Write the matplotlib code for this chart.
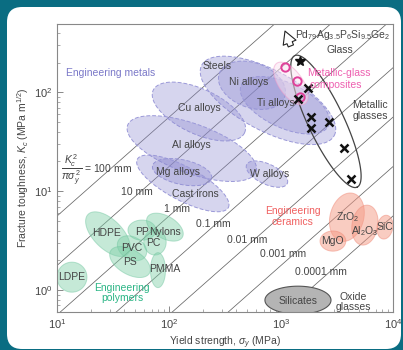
import numpy as np
import matplotlib
matplotlib.use('Agg')
import matplotlib.pyplot as plt
from matplotlib.patches import FancyBboxPatch
from matplotlib.ticker import LogLocator, NullFormatter

plt.rcParams['font.family'] = ['Liberation Sans', 'DejaVu Sans']
plt.rcParams['mathtext.fontset'] = 'custom'
plt.rcParams['mathtext.rm'] = 'Liberation Sans'
plt.rcParams['mathtext.it'] = 'Liberation Sans:italic'
plt.rcParams['mathtext.bf'] = 'Liberation Sans:bold'

# material property envelopes: centre (yield MPa, K MPa m^1/2), semi-axes (decades), angle (deg)
metal_names = ['Steels', 'Ni alloys', 'Ti alloys', 'Cu alloys', 'Al alloys', 'Mg alloys', 'Cast irons', 'W alloys']
metal_x = [766, 551, 1086, 185, 160, 131, 133, 750]
metal_y = [83, 118, 74, 64, 27, 15.6, 12, 14.9]
metal_a = [0.67, 0.31, 0.43, 0.45, 0.61, 0.27, 0.46, 0.2]
metal_b = [0.27, 0.2, 0.2, 0.2, 0.22, 0.11, 0.15, 0.09]
metal_ang = [-28, -20, -25, -25, -20, -12, -28, -25]

poly_names = ['LDPE', 'HDPE', 'PVC', 'PS', 'PP', 'Nylons', 'PC', 'PMMA']
poly_x = [13.6, 28.5, 46.8, 44.9, 57.4, 92, 75, 79.8]
poly_y = [1.35, 3.68, 2.65, 1.92, 4.04, 4.33, 3.05, 1.59]
poly_a = [0.134, 0.25, 0.14, 0.2, 0.125, 0.18, 0.115, 0.156]
poly_b = [0.134, 0.13, 0.1, 0.11, 0.09, 0.1, 0.1, 0.067]
poly_ang = [0, -45, -30, -30, 0, -30, 90, 90]

cer_names = ['ZrO$_2$', 'MgO', 'Al$_2$O$_3$', 'SiC']
cer_x = [3880, 2911, 5623, 8490]
cer_y = [5.46, 3.13, 4.54, 4.33]
cer_a = [0.22, 0.115, 0.18, 0.107]
cer_b = [0.15, 0.09, 0.115, 0.07]
cer_ang = [75, 0, 80, 80]

silicate = (1419, 0.79, 0.295, 0.125, 0)
mg_envelope = (2523, 50.9, 0.65, 0.16, -64.6)
composite_envelope = (1227, 123, 0.22, 0.107, -55)

composite_x = [1086, 1389, 1479]
composite_y = [179, 129, 89]
glass_x = [1742, 1419, 1853, 1853, 2685, 3652, 4217]
glass_y = [112, 85, 55.9, 43.3, 49.8, 27.2, 13.2]
pd_glass = (1479, 206)

# process-zone lines K^2/(pi sigma^2), mm
zone_mm = [100, 10, 1, 0.1, 0.01, 0.001, 0.0001]
zone_labels = ['10 mm', '1 mm', '0.1 mm', '0.01 mm', '0.001 mm', '0.0001 mm']
zone_label_x = [51.8, 118, 247, 497, 1042, 2276]
zone_label_y = [9.77, 6.58, 4.64, 3.2, 2.31, 1.52]

XLIM = (10, 1e4)
YLIM = (0.6, 490)

fig = plt.figure(figsize=(4.03, 3.5), dpi=100, facecolor='#0a6d82')
panel = FancyBboxPatch((0.07, 0.01), 3.94, 3.42, boxstyle='round,pad=0,rounding_size=0.15',
                       transform=fig.dpi_scale_trans, facecolor='white', edgecolor='none', zorder=-5)
fig.patches.append(panel)

ax = fig.add_axes([0.1414, 0.1086, 0.8336, 0.8224])
ax.set_xscale('log')
ax.set_yscale('log')
ax.set_xlim(*XLIM)
ax.set_ylim(*YLIM)
ax.set_facecolor('none')

# decade aspect (display length of a y decade / x decade)
bb = ax.get_position()
px_x = bb.width * 403 / np.log10(XLIM[1] / XLIM[0])
px_y = bb.height * 350 / np.log10(YLIM[1] / YLIM[0])
r = px_x / px_y


def ellipse(cx, cy, a, b, ang):
    t = np.linspace(0, 2 * np.pi, 120)
    u = a * np.cos(t)
    v = b * np.sin(t)
    th = np.radians(ang)
    dx = u * np.cos(th) - v * np.sin(th)
    dy = (u * np.sin(th) + v * np.cos(th)) * r
    return 10 ** (np.log10(cx) + dx), 10 ** (np.log10(cy) + dy)


# guide lines
xs = np.array(XLIM)
for d in zone_mm:
    ax.plot(xs, xs * np.sqrt(np.pi * d / 1000), color='#666666', lw=0.55, zorder=1)

# metals
for i in range(len(metal_names)):
    ex, ey = ellipse(metal_x[i], metal_y[i], metal_a[i], metal_b[i], metal_ang[i])
    ax.fill(ex, ey, facecolor='#8c89d0', alpha=0.35, zorder=2)
    ax.plot(ex, ey, color='#9a98d8', lw=0.7, ls=(0, (4, 2)), zorder=2)

# polymers
for i in range(len(poly_names)):
    ex, ey = ellipse(poly_x[i], poly_y[i], poly_a[i], poly_b[i], poly_ang[i])
    ax.fill(ex, ey, facecolor='#7fcfa8', alpha=0.45, edgecolor='#6cc49c', lw=0.7, zorder=2)

# ceramics
for i in range(len(cer_names)):
    ex, ey = ellipse(cer_x[i], cer_y[i], cer_a[i], cer_b[i], cer_ang[i])
    ax.fill(ex, ey, facecolor='#f59a85', alpha=0.5, edgecolor='#f08a78', lw=0.7, zorder=2)

ex, ey = ellipse(*silicate)
ax.fill(ex, ey, facecolor='#b4b4b4', edgecolor='#555555', lw=0.8, zorder=2)

ex, ey = ellipse(*mg_envelope)
ax.plot(ex, ey, color='#444444', lw=0.9, zorder=3)
ex, ey = ellipse(*composite_envelope)
ax.fill(ex, ey, facecolor='#fbe3f0', alpha=0.5, edgecolor='#f29ccb', lw=0.8, zorder=3)

ax.plot(composite_x, composite_y, 'o', ms=6, mfc='none', mec='#e0409a', mew=1.4, zorder=4)
ax.plot(glass_x, glass_y, 'x', ms=5.5, color='#111111', mew=1.8, zorder=4)
ax.plot(*pd_glass, '*', ms=7, color='#111111', zorder=4)

ax.annotate('', xy=(1064, 443), xytext=(1253, 278),
            arrowprops=dict(arrowstyle='simple,head_width=1.1,head_length=1.0,tail_width=0.45',
                            mutation_scale=9, fc='white', ec='#222222', lw=0.8), zorder=5)

tc = '#444444'
fs = 7.5
for name, x, y in zip(['Steels', 'Ni alloys', 'Ti alloys', 'Cu alloys', 'Al alloys', 'Mg alloys', 'Cast irons', 'W alloys'],
                      [268, 518, 902, 185, 160, 120, 171, 798],
                      [187, 126, 77.4, 68.9, 29.2, 15.6, 9.33, 14.9]):
    ax.text(x, y, name, fontsize=fs, color=tc, ha='center', va='center', zorder=6)
ax.text(30.3, 156, 'Engineering metals', fontsize=7.5, color='#7a78c8', ha='center', va='center')

for name, x, y in zip(['HDPE', 'PP', 'Nylons', 'PVC', 'PC', 'PS', 'PMMA', 'LDPE'],
                      [27.9, 57.4, 92, 46.8, 72, 44.9, 92, 13.6],
                      [3.77, 3.86, 3.86, 2.65, 2.99, 1.92, 1.63, 1.35]):
    ax.text(x, y, name, fontsize=fs, color=tc, ha='center', va='center', zorder=6)
ax.text(38, 0.933, 'Engineering\npolymers', fontsize=7.5, color='#2bb585', ha='center', va='center',
        linespacing=1.1)

for name, x, y in zip(cer_names, [3963, 2911, 5623, 8490], [5.46, 3.13, 3.95, 4.33]):
    ax.text(x, y, name, fontsize=fs, color=tc, ha='center', va='center', zorder=6)
ax.text(1279, 5.58, 'Engineering\nceramics', fontsize=7.5, color='#f06060', ha='center', va='center',
        linespacing=1.1)

ax.text(1419, 0.78, 'Silicates', fontsize=fs, color=tc, ha='center', va='center', zorder=6)
ax.text(4395, 0.757, 'Oxide\nglasses', fontsize=fs, color=tc, ha='center', va='center', linespacing=1.1)

ax.text(3580, 377, 'Pd$_{79}$Ag$_{3.5}$P$_6$Si$_{9.5}$Ge$_2$', fontsize=fs, color=tc, ha='center', va='center')
ax.text(3367, 266, 'Glass', fontsize=fs, color=tc, ha='center', va='center')
ax.text(3300, 156, 'Metallic-glass', fontsize=7.5, color='#ee5fb0', ha='center', va='center', zorder=6)
ax.text(3100, 118, 'composites', fontsize=7.5, color='#ee5fb0', ha='center', va='center', zorder=6)
ax.text(6240, 65.8, 'Metallic\nglasses', fontsize=fs, color=tc, ha='center', va='center', linespacing=1.1)

ax.text(10.9, 16.3, r'$\dfrac{K_c^{\,2}}{\pi\sigma_y^{\,2}}$ = 100 mm', fontsize=fs, color=tc, ha='left', va='center')
for lab, x, y in zip(zone_labels, zone_label_x, zone_label_y):
    ax.text(x, y, lab, fontsize=fs, color=tc, ha='center', va='center', zorder=6)

ax.set_xlabel(r'Yield strength, $\sigma_y$ (MPa)', fontsize=7.5, color=tc, labelpad=3)
ax.set_ylabel(r'Fracture toughness, $K_c$ (MPa m$^{1/2}$)', fontsize=7.5, color=tc, labelpad=2)

for s in ax.spines.values():
    s.set_color('#888888')
    s.set_linewidth(0.8)
ax.xaxis.set_major_locator(LogLocator(base=10, numticks=10))
ax.yaxis.set_major_locator(LogLocator(base=10, numticks=10))
ax.xaxis.set_minor_locator(LogLocator(base=10, subs=np.arange(2, 10), numticks=20))
ax.yaxis.set_minor_locator(LogLocator(base=10, subs=np.arange(2, 10), numticks=20))
ax.xaxis.set_minor_formatter(NullFormatter())
ax.yaxis.set_minor_formatter(NullFormatter())
ax.tick_params(which='both', direction='in', colors='#888888', labelcolor=tc, labelsize=8)
ax.tick_params(which='major', length=4, width=0.7)
ax.tick_params(which='minor', length=2, width=0.5)

fig.savefig('out.png', dpi=100, facecolor=fig.get_facecolor())
